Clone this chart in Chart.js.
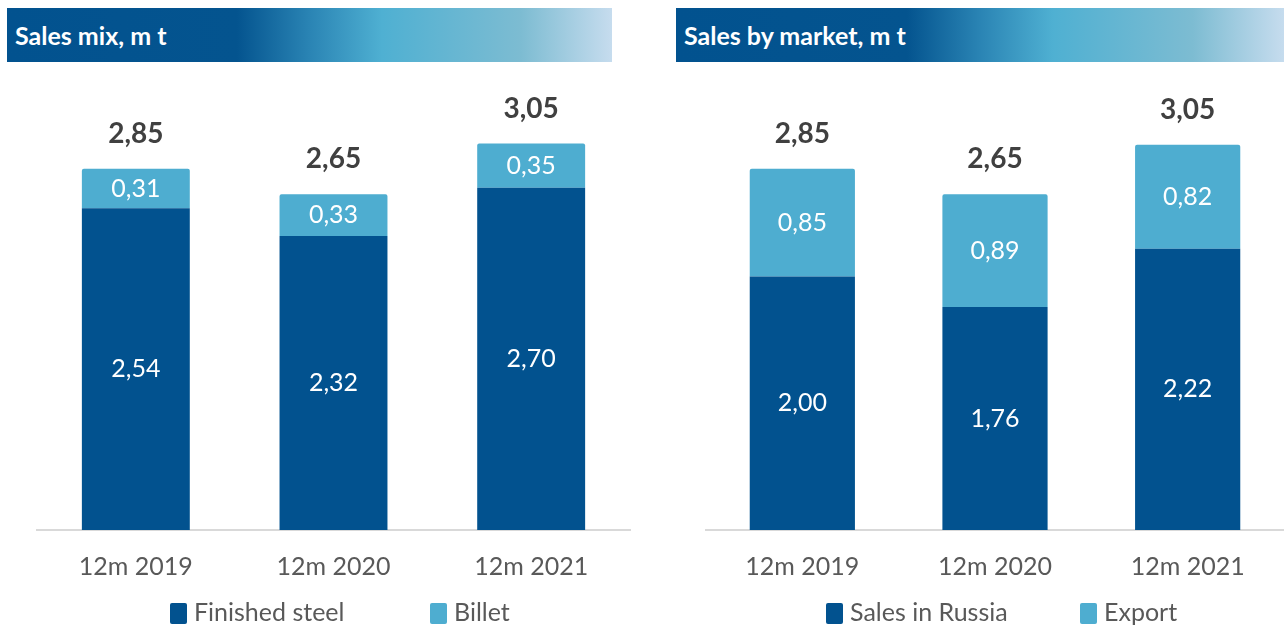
<!DOCTYPE html>
<html>
<head>
<title>Sales mix and sales by market</title>
<script src="https://cdn.jsdelivr.net/npm/chart.js@4.4.0/dist/chart.umd.min.js"></script>
<style>
body {
  margin: 0;
  background: #ffffff;
  font-family: Lato, "Open Sans", sans-serif;
}
#page {
  position: relative;
  width: 1284px;
  height: 625px;
  overflow: hidden;
}
.head {
  position: absolute;
  top: 8px;
  height: 54px;
  line-height: 54px;
  color: #ffffff;
  font-weight: bold;
  font-size: 25px;
  padding-left: 8px;
  box-sizing: border-box;
  background: linear-gradient(to right, #02528f 0%, #04548f 38%, #2a84b4 50%, #4fb0d2 62%, #7dbcd2 85%, #c6dcee 100%);
}
.box {
  position: absolute;
  top: 70px;
  height: 534px;
}
.legend {
  position: absolute;
  top: 596px;
  height: 30px;
  font-size: 25px;
  color: #595959;
  white-space: nowrap;
}
.legend span.sw {
  display: inline-block;
  width: 17px;
  height: 21px;
  border-radius: 2px;
  vertical-align: -3px;
  margin-right: 7px;
}
.legend span.item {
  position: absolute;
  top: 0;
}
</style>
</head>
<body>
<div id="page">
  <div class="head" style="left:7px; width:605px;">Sales mix, m t</div>
  <div class="head" style="left:676px; width:608px;">Sales by market, m t</div>
  <div class="box" style="left:0px; width:640px;"><canvas id="mix"></canvas></div>
  <div class="box" style="left:669px; width:615px;"><canvas id="market"></canvas></div>
  <div class="legend" id="legMix" style="left:170px;"></div>
  <div class="legend" id="legMarket" style="left:826px;"></div>
</div>
<script>
// data
var categories = ['12m 2019', '12m 2020', '12m 2021'];
var finishedSteel = [2.54, 2.32, 2.70];
var billet = [0.31, 0.33, 0.35];
var mixTotals = [2.85, 2.65, 3.05];
var salesRussia = [2.00, 1.76, 2.22];
var exportSales = [0.85, 0.89, 0.82];
var marketTotals = [2.85, 2.65, 3.05];

var darkBlue = '#02528f';
var lightBlue = '#4eadd0';
var fontName = 'Lato, "Open Sans", sans-serif';

function fmt(v) {
  return v.toFixed(2).replace('.', ',');
}

// value labels inside the segments + bold totals above the stacks
var barLabels = {
  id: 'barLabels',
  afterDatasetsDraw: function (chart, args, opts) {
    var ctx = chart.ctx;
    ctx.save();
    ctx.textAlign = 'center';
    ctx.textBaseline = 'middle';
    ctx.font = '25px ' + fontName;
    ctx.fillStyle = '#ffffff';
    chart.data.datasets.forEach(function (ds, i) {
      chart.getDatasetMeta(i).data.forEach(function (bar, j) {
        ctx.fillText(fmt(ds.data[j]), bar.x, (bar.y + bar.base) / 2);
      });
    });
    var last = chart.getDatasetMeta(chart.data.datasets.length - 1).data;
    ctx.font = 'bold 28px ' + fontName;
    ctx.fillStyle = '#404040';
    opts.totals.forEach(function (t, j) {
      ctx.fillText(fmt(t), last[j].x, last[j].y - 35);
    });
    ctx.restore();
  }
};

function makeChart(id, lower, upper, names, totals, padRight) {
  var ctx = document.getElementById(id).getContext('2d');
  return new Chart(ctx, {
    type: 'bar',
    data: {
      labels: categories,
      datasets: [
        { label: names[0], data: lower, backgroundColor: darkBlue, borderWidth: 0 },
        { label: names[1], data: upper, backgroundColor: lightBlue, borderWidth: 0, borderRadius: { topLeft: 2, topRight: 2 }, borderSkipped: 'bottom' }
      ]
    },
    options: {
      responsive: true,
      maintainAspectRatio: false,
      animation: false,
      categoryPercentage: 1,
      barPercentage: 0.546,
      layout: { padding: { left: 37, right: padRight, top: 0, bottom: 0 } },
      plugins: {
        legend: { display: false },
        tooltip: { enabled: false },
        barLabels: { totals: totals }
      },
      scales: {
        x: {
          stacked: true,
          grid: { display: false, drawTicks: false },
          border: { display: true, color: '#d9d9d9', width: 2 },
          ticks: { color: '#595959', font: { family: fontName, size: 25 }, padding: 22 }
        },
        y: {
          stacked: true,
          display: false,
          min: 0,
          max: 3.63
        }
      }
    },
    plugins: [barLabels]
  });
}

function makeLegend(id, chart, gap) {
  var el = document.getElementById(id);
  var x = 0;
  chart.data.datasets.forEach(function (ds, i) {
    var item = document.createElement('span');
    item.className = 'item';
    item.style.left = x + 'px';
    item.innerHTML = '<span class="sw" style="background:' + ds.backgroundColor + '"></span>' + ds.label;
    el.appendChild(item);
    x += gap;
  });
}

var mixChart = makeChart('mix', finishedSteel, billet, ['Finished steel', 'Billet'], mixTotals, 10);
var marketChart = makeChart('market', salesRussia, exportSales, ['Sales in Russia', 'Export'], marketTotals, 0);
makeLegend('legMix', mixChart, 260);
makeLegend('legMarket', marketChart, 254);
</script>
</body>
</html>
